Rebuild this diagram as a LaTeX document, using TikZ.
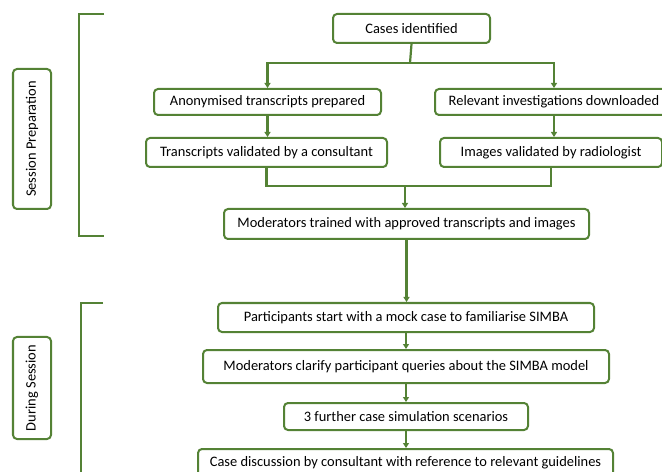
\documentclass[tikz,border=0pt]{standalone}
\usepackage{fontspec}
\setmainfont{Carlito}
\usetikzlibrary{arrows.meta}
\definecolor{fg}{HTML}{548235}
\begin{document}
\begin{tikzpicture}[x=1bp,y=-1bp,
  box/.style={draw=fg,line width=2bp,rounded corners=4bp,fill=white,inner sep=0pt,anchor=north west,
    font=\fontsize{14.5}{17}\selectfont,text=black},
  sidebox/.style={box,anchor=center,rotate=90},
  conn/.style={draw=fg,line width=2.2bp},
  arr/.style={conn,-{Triangle[width=6bp,length=5bp]}},
  brk/.style={draw=fg,line width=2.2bp}]
\useasboundingbox (0,0) rectangle (662,472);
\clip (0,0) rectangle (662,472);
% boxes
\node[box,minimum width=157bp,minimum height=29bp] (cases) at (332,13) {Cases identified};
\node[box,minimum width=227bp,minimum height=26bp] (anon) at (153,88) {Anonymised transcripts prepared};
\node[box,minimum width=238bp,minimum height=26bp] (relev) at (434,88) {Relevant investigations downloaded};
\node[box,minimum width=241bp,minimum height=29bp] (transval) at (145,137) {Transcripts validated by a consultant};
\node[box,minimum width=222bp,minimum height=29bp] (imgval) at (439,137) {Images validated by radiologist};
\node[box,minimum width=365bp,minimum height=30bp] (modtrain) at (223,208) {Moderators trained with approved transcripts and images};
\node[box,minimum width=376bp,minimum height=29bp] (partic) at (217,302) {Participants start with a mock case to familiarise SIMBA};
\node[box,minimum width=406bp,minimum height=33bp] (modclar) at (202,349) {Moderators clarify participant queries about the SIMBA model};
\node[box,minimum width=244bp,minimum height=27bp] (further) at (283,402) {3 further case simulation scenarios};
\node[box,minimum width=415bp,minimum height=28bp] (casedisc) at (197,448) {Case discussion by consultant with reference to relevant guidelines};
% side labels
\node[sidebox,minimum width=140bp,minimum height=38bp] (sessprep) at (32,139) {Session Preparation};
\node[sidebox,minimum width=102bp,minimum height=38bp] (during) at (32,388) {During Session};
% brackets
\coordinate (b1t) at (104,14);
\coordinate (b1b) at (104,236);
\draw[brk] (b1t) -- (79,14) -- (79,236) -- (b1b);
\coordinate (b2t) at (103,303);
\coordinate (b2b) at (81,480);
\draw[brk] (b2t) -- (81,303) -- (b2b);
% connectors
\coordinate (split) at (410,63);
\coordinate (merge) at (405,186);
\draw[conn] (cases.south) -- (split);
\draw[arr] (split) -| (anon.north);
\draw[arr] (split) -| (relev.north);
\draw[arr] (anon.south) -- (transval.north -| anon.south);
\draw[arr] (relev.south) -- (imgval.north -| relev.south);
\draw[conn] (transval.south) |- (merge);
\draw[conn] (imgval.south) |- (merge);
\draw[arr] (merge) -- (modtrain.north -| merge);
\draw[arr] (modtrain.south) -- (partic.north -| modtrain.south);
\draw[arr] (partic.south) -- (modclar.north -| partic.south);
\draw[arr] (modclar.south) -- (further.north -| modclar.south);
\draw[arr] (further.south) -- (casedisc.north -| further.south);
\end{tikzpicture}
\end{document}
